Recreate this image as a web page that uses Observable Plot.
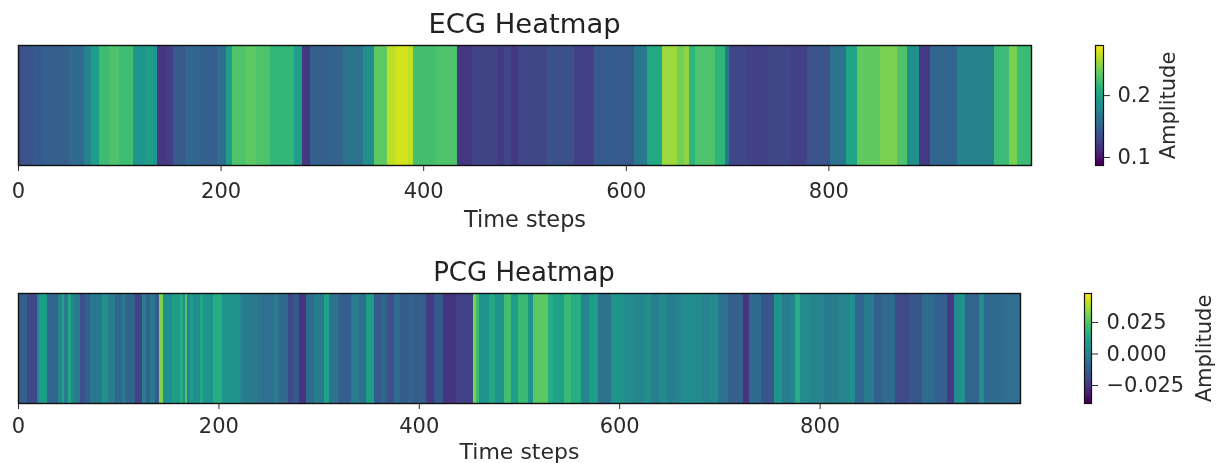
<!DOCTYPE html>
<html>
<head>
<meta charset="utf-8">
<script src="https://cdn.jsdelivr.net/npm/d3@7"></script>
<script src="https://cdn.jsdelivr.net/npm/@observablehq/plot@0.6"></script>
<style>
html,body{margin:0;padding:0;background:#fff;}
#chart{position:relative;width:1227px;height:463px;overflow:hidden;font-family:"DejaVu Sans",sans-serif;color:#222;filter:blur(0.5px);}
#chart svg{position:absolute;background:transparent;overflow:visible;}
.title{position:absolute;white-space:nowrap;transform:translateX(-50%);line-height:1;color:#222;}
</style>
</head>
<body>
<div id="chart"></div>
<script>
const ecgStarts = [0,5,15,25,50,65,72,80,90,100,111,114,125,133,137,147,153,165,180,196,205,211,225,235,249,272,280,288,305,321,341,351,364,372,385,390,413,418,433,448,473,480,487,494,522,549,569,608,621,636,651,657,662,668,688,698,702,720,740,762,779,802,817,828,851,868,878,889,900,927,963,978,986];
const ecgValues = [.132,.137,.141,.145,.153,.174,.194,.221,.227,.221,.223,.188,.194,.188,.118,.122,.141,.151,.145,.155,.194,.227,.233,.227,.215,.194,.118,.145,.148,.161,.184,.233,.262,.268,.262,.223,.227,.227,.118,.126,.120,.128,.118,.128,.134,.124,.141,.165,.203,.252,.240,.248,.213,.227,.213,.165,.128,.124,.128,.124,.137,.161,.200,.234,.242,.227,.184,.120,.151,.174,.219,.242,.219];

const pcgStarts = [0,9,19,21,29,40,44,46,50,53,57,62,67,72,84,90,97,104,107,117,124,128,132,137,141,145,154,162,165,167,169,172,175,182,185,195,204,222,225,239,245,254,259,269,274,280,287,295,305,310,319,332,340,347,355,362,368,375,381,389,395,400,407,415,424,437,454,457,460,470,476,485,492,499,509,514,529,534,545,552,562,570,579,592,605,617,625,632,640,648,655,662,672,682,690,699,709,724,730,742,754,762,770,775,780,790,804,818,830,835,844,854,862,875,889,902,915,927,934,940,945,959,964,982];
const pcgValues = [-.013,-.020,-.000,.009,-.011,-.000,.011,-.003,.013,-.000,-.004,-.018,-.013,-.004,.004,-.003,-.011,-.003,-.011,-.022,-.003,-.013,-.004,-.015,.031,.004,.009,.015,.004,.024,-.000,.009,.004,.013,.006,.015,.006,-.000,-.003,-.006,-.008,-.003,-.009,-.020,-.015,-.026,-.009,-.003,.011,-.006,-.013,-.003,-.008,.009,-.015,-.011,-.018,-.009,-.015,-.011,-.015,-.013,-.024,-.015,-.026,-.022,.031,.020,.006,.013,.006,.022,.009,.020,.006,.026,.015,.011,.020,.015,-.000,.009,-.006,.006,.002,-.000,.003,-.002,.002,-.002,-.001,.003,.002,-.000,.002,-.006,-.013,-.026,-.009,-.016,.006,-.003,-.000,.015,.002,-.000,-.003,-.000,.004,-.011,-.003,-.013,-.009,-.020,-.016,-.009,-.013,-.024,.002,.006,-.011,.004,-.009,-.008];

const xTicks = [0,200,400,600,800];
const ecgDomain = [0.087,0.281];
const pcgDomain = [-0.0393,0.048];
const ecgBarTicks = [0.1,0.2];
const pcgBarTicks = [-0.025,0,0.025];

const root = document.getElementById("chart");
const font = {fontFamily:'"DejaVu Sans",sans-serif',fontSize:"21px"};
const ink = "#2a2a2a";

function segments(starts, values){
  return starts.map((s,i)=>({x1:s,x2:i+1<starts.length?starts[i+1]:1000,v:values[i]}));
}
function place(svg,left,top){svg.style.left=left+"px";svg.style.top=top+"px";root.appendChild(svg);}
function heat(starts,values,domain,o){
  const svg = Plot.plot({
    width:o.right+9,height:o.bottom+70,
    marginLeft:18,marginRight:9,marginTop:o.top,marginBottom:70,
    style:font,
    x:{domain:[0,1000]},
    color:{type:"linear",scheme:"viridis",domain},
    marks:[
      Plot.rect(segments(starts,values),{x1:"x1",x2:"x2",fill:"v",shapeRendering:"crispEdges"}),
      Plot.frame({stroke:"#111",strokeWidth:1.4}),
      Plot.axisX({ticks:xTicks,tickFormat:d=>String(d),tickSize:6,tickPadding:o.tickPadding,label:null,stroke:ink,fill:ink}),
      Plot.text(["Time steps"],{frameAnchor:"bottom",dy:o.labelDy,fontSize:o.labelSize,fill:ink})
    ]
  });
  place(svg,0,0);
}
function colorbar(domain,ticks,fmt,o){
  const n=64, step=(domain[1]-domain[0])/n;
  const levels=d3.range(n).map(i=>domain[0]+i*step);
  const svg = Plot.plot({
    width:o.right-o.left+o.extra,height:o.bottom-o.top+40,
    marginLeft:0,marginRight:o.extra,marginTop:20,marginBottom:20,
    style:font,
    x:{domain:[0,1],axis:null},
    y:{domain},
    color:{type:"linear",scheme:"viridis",domain},
    marks:[
      Plot.rect(levels,{x1:0,x2:1,y1:d=>d,y2:d=>d+step,fill:d=>d,shapeRendering:"crispEdges"}),
      Plot.frame({stroke:"#111",strokeWidth:1.2}),
      Plot.axisY({anchor:"right",ticks,tickFormat:fmt,tickSize:6,tickPadding:o.tickPadding,label:"Amplitude",labelAnchor:"center",labelArrow:"none",labelOffset:o.labelOffset,stroke:ink,fill:ink})
    ]
  });
  place(svg,o.left,o.top-20);
}
function title(text,cx,top,size){
  const d=document.createElement("div");d.className="title";d.textContent=text;d.style.left=cx+"px";d.style.top=top+"px";d.style.fontSize=size+"px";root.appendChild(d);
}
heat(ecgStarts,ecgValues,ecgDomain,{top:45,bottom:165,right:1031,labelDy:61,labelSize:22.4,tickPadding:12});
heat(pcgStarts,pcgValues,pcgDomain,{top:293,bottom:403,right:1020,labelDy:55,labelSize:22,tickPadding:9});
colorbar(ecgDomain,ecgBarTicks,d3.format(".1f"),{left:1095,right:1103,top:45,bottom:165,extra:120,labelOffset:71,tickPadding:8});
colorbar(pcgDomain,pcgBarTicks,d=>d3.format(".3f")(d).replace("-","\u2212"),{left:1084,right:1091,top:293,bottom:403,extra:136,labelOffset:119,tickPadding:9});
title("ECG Heatmap",524.5,10,27.4);
title("PCG Heatmap",524,259,26);
</script>
</body>
</html>
